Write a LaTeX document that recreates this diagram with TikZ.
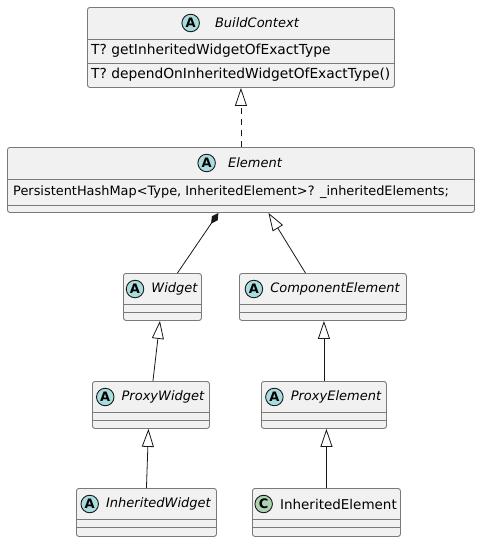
\documentclass[tikz,border=0pt]{standalone}
\usepackage{fontspec}
\setmainfont{DejaVu Sans}
\usetikzlibrary{positioning, arrows.meta}
\definecolor{boxfill}{HTML}{F1F1F1}
\definecolor{boxline}{HTML}{7A7A7A}
\definecolor{arrowline}{HTML}{181818}
\definecolor{absicon}{HTML}{A9DCDF}
\definecolor{clsicon}{HTML}{ADD1B2}
\tikzset{
  x=1pt, y=1pt,
  class/.style={draw=boxline, fill=boxfill, line width=0.9pt, rounded corners=2.5pt,
    anchor=north west, inner sep=0pt},
  icon/.style={circle, draw=arrowline, line width=0.9pt, minimum size=17.5pt, inner sep=0pt,
    font=\bfseries\fontsize{13}{13}\selectfont},
  abstract/.style={icon, fill=absicon},
  concrete/.style={icon, fill=clsicon},
  cname/.style={inner sep=0pt, font=\itshape\fontsize{13}{15}\selectfont},
  member/.style={anchor=west, inner sep=0pt, font=\fontsize{13.8}{16}\selectfont},
  sep/.style={draw=boxline, line width=0.9pt},
  extends/.style={draw=arrowline, line width=0.8pt,
    -{Triangle[open, length=18pt, width=12pt, fill=white]}},
  implements/.style={extends, dash pattern=on 6pt off 5pt},
  composed/.style={draw=arrowline, line width=0.8pt,
    -{Diamond[length=13pt, width=7pt, fill=arrowline]}}
}

\begin{document}
\begin{tikzpicture}
    \useasboundingbox (0,0) rectangle (480,-542);

    % class boxes
    \node[class, minimum width=307, minimum height=80] (bc) at (87,-7)   {};
    \node[class, minimum width=467, minimum height=65] (el) at (7,-147)  {};
    \node[class, minimum width=78,  minimum height=47] (wd) at (123,-273) {};
    \node[class, minimum width=167, minimum height=47] (ce) at (239,-273) {};
    \node[class, minimum width=117, minimum height=47] (pw) at (92,-381)  {};
    \node[class, minimum width=125, minimum height=47] (pe) at (261,-381) {};
    \node[class, minimum width=140, minimum height=48] (iw) at (76,-488)  {};
    \node[class, minimum width=148, minimum height=48] (ie) at (252,-488) {};

    % compartments
    \foreach \b/\u/\v in {bc/32/56, el/32/58, wd/31/39, ce/31/39, pw/31/39, pe/31/39, iw/31/39, ie/31/39} {
      \draw[sep] ([yshift=-\u]\b.north west) -- ([yshift=-\u]\b.north east);
      \draw[sep] ([yshift=-\v]\b.north west) -- ([yshift=-\v]\b.north east);
    }

    % headers
    \node[cname] (bcn) at ([xshift=16, yshift=-16]bc.north) {BuildContext};
    \node[abstract, left=15pt of bcn] (bci) {A};
    \node[cname] (eln) at ([xshift=14, yshift=-16]el.north) {Element};
    \node[abstract, left=12pt of eln] (eli) {A};
    \node[cname] (wdn) at ([xshift=12, yshift=-16]wd.north) {Widget};
    \node[abstract, left=7pt of wdn] (wdi) {A};
    \node[cname] (cen) at ([xshift=12, yshift=-16]ce.north) {ComponentElement};
    \node[abstract, left=7pt of cen] (cei) {A};
    \node[cname] (pwn) at ([xshift=12, yshift=-16]pw.north) {ProxyWidget};
    \node[abstract, left=7pt of pwn] (pwi) {A};
    \node[cname] (pen) at ([xshift=12, yshift=-16]pe.north) {ProxyElement};
    \node[abstract, left=7pt of pen] (pei) {A};
    \node[cname] (iwn) at ([xshift=12, yshift=-16]iw.north) {InheritedWidget};
    \node[abstract, left=7pt of iwn] (iwi) {A};
    \node[cname, font=\fontsize{13.5}{15}\selectfont] (ien) at ([xshift=12, yshift=-16]ie.north) {InheritedElement};
    \node[concrete, left=7pt of ien] (iei) {C};

    % members
    \node[member] (bcm1) at ([xshift=4, yshift=-44]bc.north west) {T? getInheritedWidgetOfExactType};
    \node[member] (bcm2) at ([xshift=4, yshift=-68]bc.north west) {T? dependOnInheritedWidgetOfExactType()};
    \node[member, font=\fontsize{12.9}{15}\selectfont] (ela1) at ([xshift=6, yshift=-45]el.north west) {PersistentHashMap<Type, InheritedElement>? \_inheritedElements;};

    % relations
    \draw[implements] (el.north) -- (bc.south);
    \draw[composed] ([xshift=15]wd.north) -- ([xshift=-22.5]el.south);
    \draw[extends] ([xshift=-17.5]ce.north) -- ([xshift=27.5]el.south);
    \draw[extends] ([xshift=2]pw.north) -- ([xshift=-2.5]wd.south);
    \draw[extends] (pe.north) -- (pe.north |- ce.south);
    \draw[extends] (iw.north) -- ([xshift=2]iw.north |- pw.south);
    \draw[extends] (ie.north) -- (ie.north |- pe.south);
\end{tikzpicture}
\end{document}
